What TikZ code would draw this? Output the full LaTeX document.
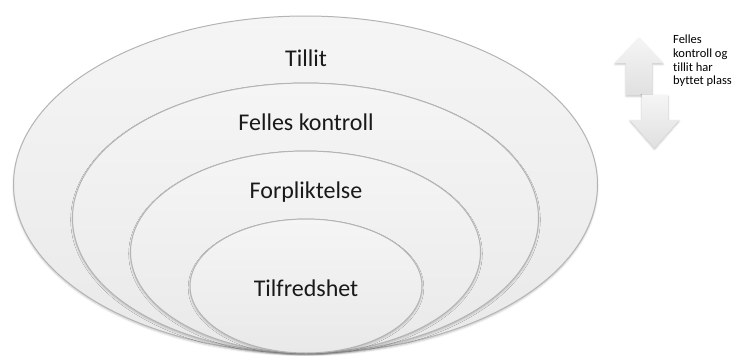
\documentclass[tikz,border=0pt]{standalone}
\usepackage{fontspec}
\setmainfont{Carlito}[Ligatures=NoCommon]
\usetikzlibrary{shapes.geometric,shadows.blur}

\definecolor{ringline}{HTML}{B4B4B4}
\definecolor{ringtop}{HTML}{F5F5F5}
\definecolor{ringbot}{HTML}{E9E9E9}
\definecolor{arrtop}{HTML}{F5F5F5}
\definecolor{arrbot}{HTML}{E0E0E0}

\tikzset{
  ring/.style={ellipse, draw=ringline, line width=1pt, inner sep=0pt,
    top color=ringtop, bottom color=ringbot,
    blur shadow={shadow xshift=0pt, shadow yshift=-1.6pt,
      shadow blur radius=1.8pt, shadow opacity=22}},
  ringlabel/.style={anchor=base, font=\fontsize{24}{29}\selectfont, text=black!90},
  swaparrow/.style={top color=arrtop, bottom color=arrbot, draw=none,
    blur shadow={shadow xshift=0pt, shadow yshift=-1.2pt,
      shadow blur radius=2pt, shadow opacity=25}},
  notetext/.style={anchor=north west, inner sep=0pt, align=left,
    font=\fontsize{12.5}{13.6}\selectfont, text=black}
}

\begin{document}
\begin{tikzpicture}[x=1pt,y=-1pt]
  \useasboundingbox (0,0) rectangle (734,356);

  % nested rings, largest first, all resting on a common bottom point
  \node[ring, minimum width=584pt, minimum height=337pt] (r1) at (305.5,184.5) {};
  \node[ring, minimum width=466pt, minimum height=270pt] (r2) at (305.5,218) {};
  \node[ring, minimum width=350pt, minimum height=202pt] (r3) at (305.5,252) {};
  \node[ring, minimum width=232pt, minimum height=134pt] (r4) at (306,286) {};

  % ring labels
  \node[ringlabel] (l1) at (306,66) {Tillit};
  \node[ringlabel] (l2) at (306,130.5) {Felles kontroll};
  \node[ringlabel] (l3) at (306,198) {Forpliktelse};
  \node[ringlabel] (l4) at (306,296) {Tilfredshet};

  % up and down arrows
  \path[swaparrow] (639,38) -- (663,63) -- (652,63) -- (652,95) -- (626,95)
    -- (626,63) -- (615,63) -- cycle;
  \path[swaparrow] (642,95) -- (668,95) -- (668,120) -- (679,120) -- (654.5,148)
    -- (630,120) -- (642,120) -- cycle;

  \node[notetext] (note) at (673,35)
    {Felles\\kontroll og\\tillit har\\byttet plass};
\end{tikzpicture}
\end{document}
